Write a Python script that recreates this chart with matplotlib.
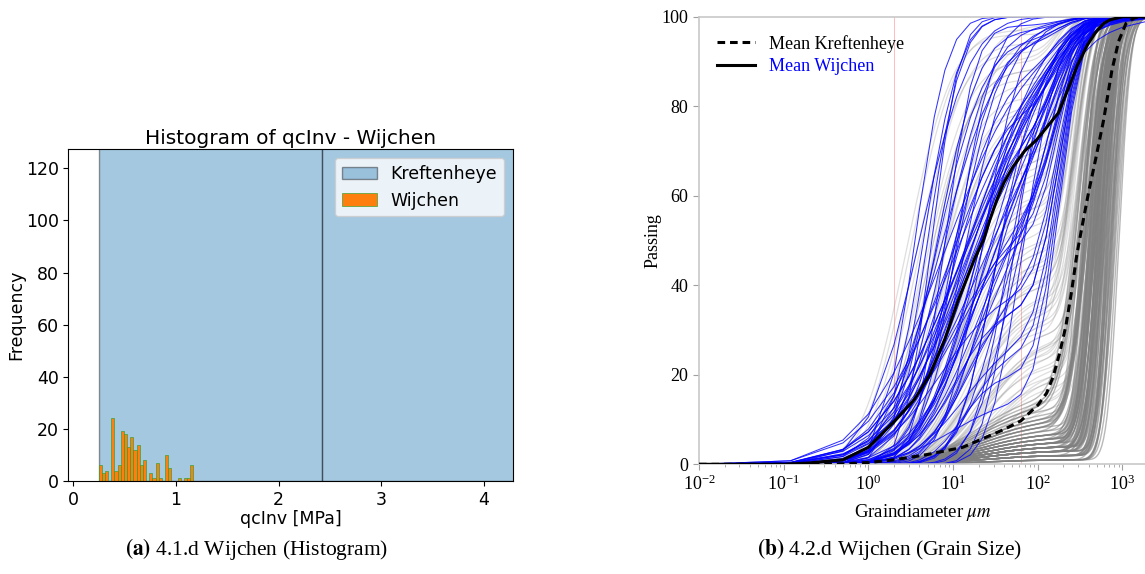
import math
import numpy as np
import matplotlib
matplotlib.use("Agg")
import matplotlib.pyplot as plt

plt.rcParams["mathtext.fontset"] = "stix"
SERIF = "Liberation Serif"

# ---------- histogram data (qcInv, MPa) ----------
wijchen_edges_start = 0.245
wijchen_bin_width = 0.0308
wijchen_counts = [6, 3, 4, 0, 24, 4, 6, 19, 18, 13,
                  17, 12, 14, 6, 8, 0, 3, 1, 7, 1,
                  0, 10, 5, 0, 0, 1, 0, 1, 1, 6]
kref_edges = [0.245, 2.42, 4.595]
kref_counts = [640, 430]

# ---------- grain size curves ----------
# Kreftenheye, well sorted sands: sand median (log10 um), sorting, fines fraction
sand_ms = [
    2.62, 2.71, 2.55, 2.80, 2.67, 2.74, 2.58, 2.88, 2.69, 2.63,
    2.77, 2.51, 2.84, 2.66, 2.72, 2.60, 2.91, 2.70, 2.57, 2.79,
    2.65, 2.83, 2.48, 2.75, 2.68, 2.86, 2.61, 2.73, 2.54, 2.81,
    2.69, 2.94, 2.64, 2.76, 2.59, 2.87, 2.71, 2.66, 2.78, 2.52,
    2.82, 2.68, 2.74, 2.62, 2.89, 2.70, 2.56, 2.79, 2.65, 2.85,
    2.73, 2.60, 2.77, 2.67, 2.92, 2.63, 2.75, 2.58, 2.80, 2.69,
    2.71, 2.46, 2.84, 2.66, 2.76, 2.61, 2.88, 2.72, 2.55, 2.78,
    2.64, 2.82, 2.68, 2.74, 2.57, 2.90, 2.70, 2.62, 2.79, 2.67,
    2.86, 2.53, 2.75, 2.69, 2.81, 2.63, 2.73, 2.96, 2.60, 2.77,
    2.65, 2.83, 2.71, 2.58, 2.76, 2.68, 2.87, 2.50, 2.74, 2.66,
]
sand_ss = [
    0.12, 0.15, 0.10, 0.18, 0.13, 0.11, 0.16, 0.14, 0.09, 0.12,
    0.17, 0.13, 0.11, 0.15, 0.10, 0.19, 0.12, 0.14, 0.16, 0.11,
    0.13, 0.10, 0.18, 0.12, 0.15, 0.14, 0.11, 0.17, 0.13, 0.10,
    0.16, 0.12, 0.14, 0.09, 0.18, 0.13, 0.11, 0.15, 0.12, 0.20,
    0.10, 0.14, 0.13, 0.16, 0.11, 0.12, 0.17, 0.10, 0.15, 0.13,
    0.12, 0.18, 0.11, 0.14, 0.13, 0.16, 0.10, 0.15, 0.12, 0.17,
    0.14, 0.19, 0.12, 0.11, 0.15, 0.13, 0.10, 0.16, 0.14, 0.12,
    0.18, 0.11, 0.13, 0.15, 0.17, 0.12, 0.10, 0.14, 0.13, 0.16,
    0.11, 0.20, 0.12, 0.15, 0.10, 0.14, 0.13, 0.11, 0.17, 0.12,
    0.16, 0.13, 0.10, 0.18, 0.12, 0.15, 0.11, 0.19, 0.14, 0.13,
]
sand_fines = [
    0.05, 0.03, 0.09, 0.02, 0.06, 0.04, 0.11, 0.01, 0.04, 0.07,
    0.03, 0.13, 0.02, 0.05, 0.04, 0.08, 0.01, 0.03, 0.10, 0.04,
    0.06, 0.02, 0.15, 0.03, 0.05, 0.02, 0.07, 0.04, 0.12, 0.03,
    0.04, 0.01, 0.06, 0.03, 0.09, 0.02, 0.05, 0.07, 0.03, 0.14,
    0.02, 0.04, 0.03, 0.08, 0.01, 0.05, 0.11, 0.03, 0.06, 0.02,
    0.04, 0.09, 0.03, 0.05, 0.01, 0.07, 0.04, 0.10, 0.02, 0.05,
    0.03, 0.16, 0.02, 0.06, 0.04, 0.08, 0.01, 0.03, 0.11, 0.04,
    0.06, 0.02, 0.05, 0.03, 0.10, 0.01, 0.04, 0.07, 0.03, 0.05,
    0.02, 0.13, 0.04, 0.05, 0.03, 0.07, 0.04, 0.01, 0.09, 0.03,
    0.06, 0.02, 0.04, 0.10, 0.03, 0.05, 0.02, 0.14, 0.04, 0.06,
]

# Kreftenheye, silty samples: fines fraction, fines median, sand median (log10 um)
silt_frac = [
    0.95, 0.30, 0.55, 0.20, 0.80, 0.40, 0.25, 0.65, 0.35, 0.90,
    0.45, 0.22, 0.70, 0.28, 0.50, 0.85, 0.33, 0.60, 0.18, 0.75,
    0.38, 0.26, 0.92, 0.48, 0.30, 0.58, 0.21, 0.68, 0.42, 0.24,
    0.78, 0.36, 0.52, 0.19, 0.88, 0.44, 0.27, 0.62, 0.32, 0.98,
    0.46, 0.23, 0.72, 0.34, 0.56, 0.60, 0.15, 0.82, 0.40, 0.27,
    0.94, 0.50, 0.20, 0.66, 0.36, 0.88, 0.30, 0.74, 0.17, 0.54,
    0.97, 0.42, 0.25, 0.70, 0.32, 0.86, 0.48, 0.14, 0.64, 0.38,
    0.91, 0.28, 0.58, 0.22, 0.79, 0.45, 0.16, 0.68, 0.35, 0.96,
]
silt_mf = [
    0.90, 1.20, 1.05, 1.40, 0.80, 1.15, 1.30, 1.00, 1.25, 0.65,
    1.10, 1.35, 0.95, 1.45, 1.20, 0.75, 1.30, 1.10, 1.50, 0.85,
    1.25, 1.40, 0.55, 1.15, 1.35, 1.05, 1.55, 1.00, 1.20, 1.30,
    0.90, 1.25, 1.10, 1.45, 0.70, 1.15, 1.35, 1.00, 1.30, 0.80,
    1.20, 1.40, 0.95, 1.25, 1.05, 1.00, 1.50, 0.75, 1.15, 1.40,
    0.60, 1.10, 1.55, 0.90, 1.30, 0.70, 1.35, 0.85, 1.60, 1.05,
    0.50, 1.25, 1.45, 0.95, 1.30, 0.65, 1.15, 1.65, 1.00, 1.30,
    0.75, 1.40, 1.05, 1.50, 0.80, 1.20, 1.60, 0.95, 1.35, 0.45,
]
silt_ms = [
    2.30, 2.45, 2.35, 2.55, 2.25, 2.40, 2.50, 2.30, 2.45, 2.20,
    2.35, 2.55, 2.30, 2.60, 2.40, 2.25, 2.50, 2.35, 2.65, 2.30,
    2.45, 2.50, 2.20, 2.40, 2.55, 2.35, 2.60, 2.30, 2.45, 2.50,
    2.25, 2.40, 2.35, 2.55, 2.20, 2.45, 2.50, 2.30, 2.40, 2.25,
    2.45, 2.55, 2.30, 2.40, 2.35, 2.35, 2.60, 2.25, 2.45, 2.55,
    2.20, 2.40, 2.65, 2.30, 2.50, 2.25, 2.55, 2.30, 2.60, 2.40,
    2.20, 2.45, 2.55, 2.35, 2.50, 2.25, 2.45, 2.65, 2.35, 2.50,
    2.20, 2.55, 2.40, 2.60, 2.30, 2.45, 2.60, 2.35, 2.50, 2.25,
]

# Wijchen samples: median (log10 um), sorting, coarse sand fraction
blue_mu = [
    0.55, 0.80, 0.95, 1.05, 1.10, 1.20, 0.90, 1.30, 1.15, 1.00,
    0.70, 1.25, 1.40, 0.85, 1.10, 1.35, 1.05, 0.95, 1.50, 1.20,
    0.75, 1.15, 1.45, 1.00, 1.30, 0.90, 1.60, 1.10, 1.25, 0.65,
    1.40, 1.05, 1.20, 0.95, 1.55, 1.15, 0.85, 1.35, 1.00, 1.70,
    1.10, 1.30, 0.80, 1.45, 1.20, 1.00, 1.25, 0.90, 1.65, 1.15,
    0.60, 1.35, 1.05, 1.80, 1.20, 0.95, 1.40, 1.10, 1.50, 1.30,
]
blue_s = [
    0.30, 0.45, 0.70, 0.35, 0.60, 0.80, 0.28, 0.50, 0.75, 0.40,
    0.32, 0.65, 0.45, 0.55, 0.30, 0.85, 0.42, 0.60, 0.35, 0.72,
    0.26, 0.50, 0.68, 0.38, 0.55, 0.45, 0.30, 0.78, 0.48, 0.34,
    0.62, 0.82, 0.30, 0.52, 0.40, 0.66, 0.58, 0.36, 0.74, 0.28,
    0.70, 0.44, 0.40, 0.32, 0.64, 0.55, 0.50, 0.76, 0.35, 0.42,
    0.48, 0.60, 0.38, 0.30, 0.80, 0.46, 0.56, 0.34, 0.66, 0.52,
]
blue_c = [
    0.00, 0.05, 0.10, 0.00, 0.20, 0.30, 0.02, 0.05, 0.15, 0.65,
    0.00, 0.08, 0.25, 0.04, 0.80, 0.10, 0.03, 0.45, 0.12, 0.05,
    0.00, 0.70, 0.10, 0.06, 0.35, 0.02, 0.20, 0.08, 0.55, 0.00,
    0.15, 0.04, 0.75, 0.10, 0.30, 0.05, 0.60, 0.02, 0.18, 0.10,
    0.08, 0.40, 0.03, 0.22, 0.06, 0.85, 0.12, 0.05, 0.28, 0.02,
    0.00, 0.15, 0.50, 0.10, 0.04, 0.20, 0.07, 0.65, 0.25, 0.10,
]
# measurement diameters of the Wijchen analyses (um)
sieve_um = [0.01, 0.12, 0.5, 1, 2, 3, 4, 6, 8, 11, 16, 22, 31, 44, 63,
            88, 125, 177, 250, 354, 500, 707, 1000, 2000]

# mean curves
kref_mean_d = [0.01, 0.1, 0.5, 1, 2, 5, 13, 21, 40, 63, 101, 127, 152, 182,
               215, 250, 290, 340, 400, 480, 600, 750, 900, 1100, 1400, 2000]
kref_mean_p = [0, 0, 0.1, 0.4, 1.0, 2.2, 3.8, 5.5, 7.8, 9.7, 13.3, 15.9, 19.6,
               25.0, 31.0, 38.5, 47, 54, 61, 68, 77, 88, 94.5, 98.5, 99.8, 100]
wij_mean_d = [0.01, 0.1, 0.2, 0.5, 1, 2, 3.5, 5.3, 8, 11.5, 14.5, 18, 22.7,
              27, 32.7, 40, 51, 70, 97, 130, 175, 230, 290, 380, 473, 600,
              710, 1000, 2000]
wij_mean_p = [0, 0, 0.3, 1.0, 3.8, 9.5, 14.5, 20, 28, 36.7, 41.5, 46, 50,
              54.5, 59, 63, 66.5, 70, 72.5, 75.5, 78.5, 84, 88.9, 93.5, 96.3,
              98.5, 99.3, 100, 100]

_erf = np.vectorize(math.erf)


def lognorm_passing(logd, mu, s):
    return 0.5 * (1.0 + _erf((logd - mu) / (s * math.sqrt(2.0))))


fig = plt.figure(figsize=(11.45, 5.74), dpi=100)

# ================= (a) histogram =================
ax1 = fig.add_axes([0.0597, 0.162, 0.3881, 0.578])
w_edges = wijchen_edges_start + wijchen_bin_width * np.arange(len(wijchen_counts) + 1)
w_centers = 0.5 * (w_edges[:-1] + w_edges[1:])
k_centers = 0.5 * (np.array(kref_edges[:-1]) + np.array(kref_edges[1:]))

ax1.hist(k_centers, bins=kref_edges, weights=kref_counts, color="tab:blue",
         alpha=0.4, edgecolor="k", linewidth=1.0, label="Kreftenheye")
ax1.hist(w_centers, bins=w_edges, weights=wijchen_counts, color="tab:orange",
         edgecolor="tab:green", linewidth=0.45, label="Wijchen")
ax1.set_xlim(-0.05, 4.28)
ax1.set_ylim(0, 127.3)
ax1.set_yticks([0, 20, 40, 60, 80, 100, 120])
ax1.tick_params(labelsize=12.5)
ax1.set_title("Histogram of qcInv - Wijchen", fontsize=14.5, pad=4)
ax1.set_xlabel("qcInv [MPa]", fontsize=12.5, labelpad=1)
ax1.set_ylabel("Frequency", fontsize=12.5, labelpad=0)
ax1.legend(loc="upper right", fontsize=12.5)

# ================= (b) grain size =================
ax2 = fig.add_axes([0.6105, 0.1911, 0.3921, 0.7798])
d_grid = np.logspace(-2, 3.31, 260)
x_grid = np.log10(d_grid)
x_sieve = np.log10(sieve_um)

ax2.axvline(2, color="red", lw=0.6, alpha=0.3, zorder=0)
ax2.axvline(63, color="red", lw=0.6, alpha=0.3, zorder=0)

for f, mf, ms in zip(silt_frac, silt_mf, silt_ms):
    p = 100 * (f * lognorm_passing(x_grid, mf, 0.42)
               + (1 - f) * lognorm_passing(x_grid, ms, 0.15))
    ax2.plot(d_grid, p, color="#7f7f7f", lw=0.9, alpha=0.25, zorder=1)

for ms, ss, f in zip(sand_ms, sand_ss, sand_fines):
    p = 100 * (f * lognorm_passing(x_grid, 1.3, 0.55)
               + (1 - f) * lognorm_passing(x_grid, ms, ss))
    ax2.plot(d_grid, p, color="#7f7f7f", lw=1.0, alpha=0.55, zorder=1)

for mu, s, c in zip(blue_mu, blue_s, blue_c):
    p = 100 * ((1 - c) * lognorm_passing(x_sieve, mu, s)
               + c * lognorm_passing(x_sieve, 2.25, 0.22))
    ax2.plot(sieve_um, p, color="#0000ff", lw=0.75, alpha=0.8, zorder=2)

ax2.plot(kref_mean_d, kref_mean_p, color="k", lw=2.2, ls=(0, (2.5, 1.6)),
         zorder=4, label="Mean Kreftenheye")
ax2.plot(wij_mean_d, wij_mean_p, color="k", lw=2.2, zorder=4,
         label="Mean Wijchen")

ax2.set_xscale("log")
ax2.set_xlim(0.01, 2000)
ax2.set_ylim(0, 100)
ax2.set_yticks([0, 20, 40, 60, 80, 100])
for side in ["left", "bottom", "top", "right"]:
    ax2.spines[side].set_color("#c8c8c8")
    ax2.spines[side].set_linewidth(1.2)
ax2.tick_params(which="both", colors="#a0a0a0", labelcolor="black",
                labelsize=13, labelfontfamily=SERIF)
ax2.tick_params(which="major", length=4)
ax2.tick_params(which="minor", length=2.5)
ax2.set_xlabel(r"Graindiameter $\mu m$", fontsize=13.5, family=SERIF, labelpad=6)
ax2.set_ylabel("Passing", fontsize=13, family=SERIF, labelpad=0)
leg = ax2.legend(loc="upper left", frameon=False, prop={"family": SERIF, "size": 13},
                 handlelength=2.1, labelspacing=0.3, borderaxespad=0.6)
leg.get_texts()[1].set_color("blue")

# ================= captions =================
fig.text(0.2245, 0.043, r"$\mathbf{(a)}$ 4.1.d Wijchen (Histogram)",
         ha="center", va="center", fontsize=15.5, family=SERIF)
fig.text(0.777, 0.043, r"$\mathbf{(b)}$ 4.2.d Wijchen (Grain Size)",
         ha="center", va="center", fontsize=15.5, family=SERIF)

fig.savefig("out.png", dpi=100)
